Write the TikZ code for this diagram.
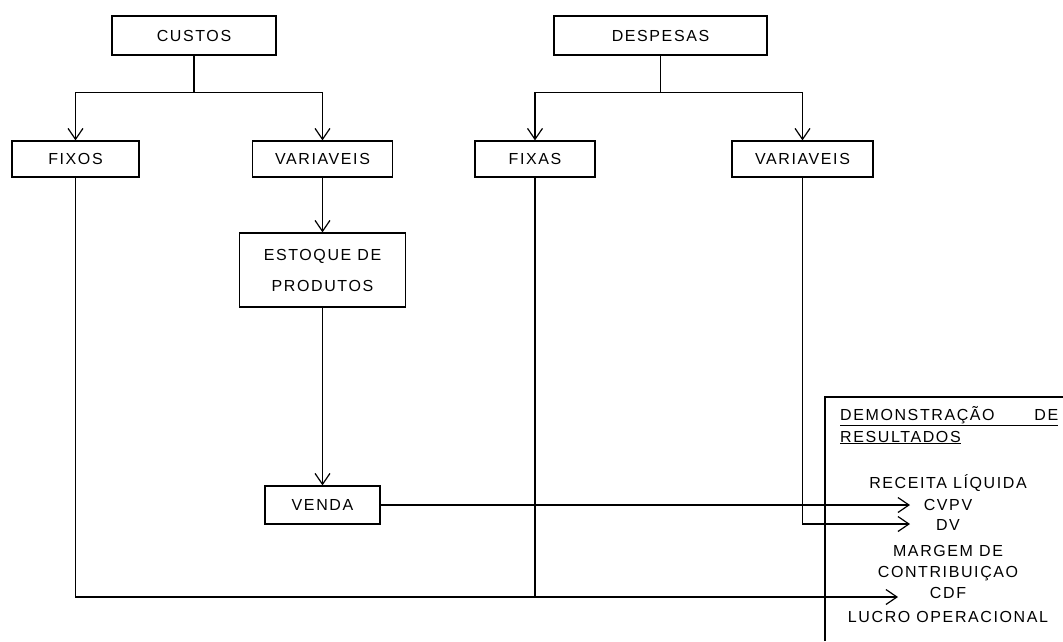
\documentclass[tikz,border=0pt]{standalone}
\usepackage{fontspec}
\setmainfont[LetterSpace=10]{Liberation Sans}
\usetikzlibrary{arrows.meta}
\begin{document}
\begin{tikzpicture}[x=1pt,y=-1pt,
  font=\fontsize{16}{19}\selectfont,
  box/.style={draw, line width=1.2pt, inner sep=0pt, align=center},
  ln/.style={line width=1.2pt},
  arr/.style={ln, -{Straight Barb[length=11pt,width=15pt,line width=1.2pt]}},
  txt/.style={anchor=base, inner sep=0pt}]
\useasboundingbox (0,0) rectangle (1063,641);
% boxes
\node[box, minimum width=164pt, minimum height=39pt] (custos) at (194,35.5) {CUSTOS};
\node[box, minimum width=127pt, minimum height=36pt] (fixos) at (75.5,159) {FIXOS};
\node[box, minimum width=140pt, minimum height=36pt] (varc) at (322.5,159) {VARIAVEIS};
\node[box, minimum width=213pt, minimum height=39pt] (despesas) at (660.5,35.5) {DESPESAS};
\node[box, minimum width=120pt, minimum height=36pt] (fixas) at (535,159) {FIXAS};
\node[box, minimum width=141pt, minimum height=36pt] (vard) at (802.5,159) {VARIAVEIS};
\node[box, minimum width=166pt, minimum height=74pt, font=\fontsize{16}{31}\selectfont] (estoque) at (322.5,270) {ESTOQUE DE\\PRODUTOS};
\node[box, minimum width=115pt, minimum height=38pt] (venda) at (322.5,505) {VENDA};
% result statement
\draw[ln] (825,641) -- (825,397) -- (1063,397);
\node[anchor=base west, inner sep=0pt] (dem) at (840,420) {\underline{\hbox to 218pt{DEMONSTRAÇÃO\hfill DE}}};
\node[anchor=base west, inner sep=0pt] (res) at (840,442) {\underline{RESULTADOS}};
\node[txt] (rec) at (948,488) {RECEITA LÍQUIDA};
\node[txt] (cvpv) at (948,510) {CVPV};
\node[txt] (dv) at (948,530) {DV};
\node[txt] (mar) at (948,556) {MARGEM DE};
\node[txt] (con) at (948,577) {CONTRIBUIÇAO};
\node[txt] (cdf) at (948,598) {CDF};
\node[txt] (luc) at (948,622) {LUCRO OPERACIONAL};
\coordinate (tcvpv) at (910,505);
\coordinate (tdv) at (910,524);
\coordinate (tcdf) at (898,597);
% connectors
\draw[ln] (custos.south) -- ++(0,37) coordinate (cj);
\draw[arr] (cj) -| (fixos.north);
\draw[arr] (cj) -| (varc.north);
\draw[ln] (despesas.south) -- ++(0,37) coordinate (dj);
\draw[arr] (dj) -| (fixas.north);
\draw[arr] (dj) -| (vard.north);
\draw[arr] (varc.south) -- (estoque.north);
\draw[arr] (estoque.south) -- (venda.north);
\draw[arr] (venda.east) -- (tcvpv);
\draw[arr] (vard.south) |- (tdv);
\draw[arr] (fixos.south) |- (tcdf);
\draw[ln] (fixas.south) -- (fixas.south |- tcdf);
\end{tikzpicture}
\end{document}
